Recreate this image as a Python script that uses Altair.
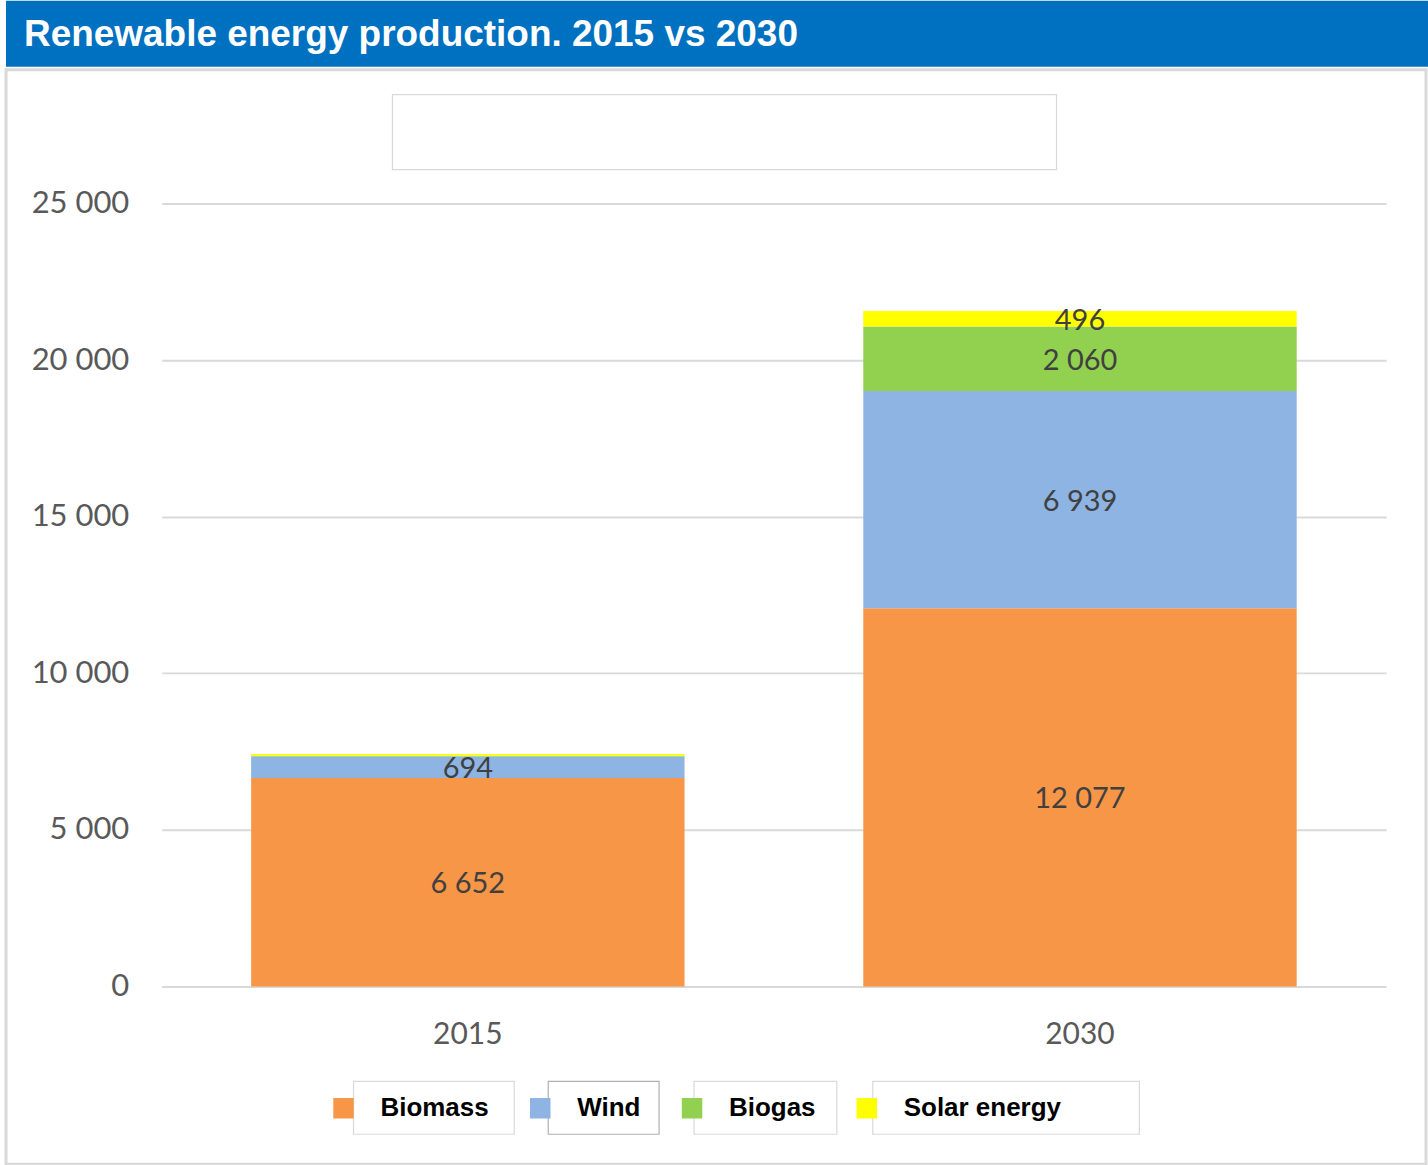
import altair as alt
import pandas as pd

# ---- data ----
years = ["2015", "2030"]
sources = ["Biomass", "Wind", "Biogas", "Solar energy"]
values_2015 = [6652, 694, 20, 60]
values_2030 = [12077, 6939, 2060, 496]
colors = ["#F79646", "#8EB4E3", "#92D050", "#FFFF00"]
y_ticks = [0, 5000, 10000, 15000, 20000, 25000]
title_text = "Renewable energy production. 2015 vs 2030"

rows = []
for yr, vals in zip(years, [values_2015, values_2030]):
    for i, (s, v) in enumerate(zip(sources, vals)):
        rows.append({"year": yr, "source": s, "value": v, "order": i})
df = pd.DataFrame(rows)

fmt = "replace(format(datum.value, ','), ',', ' ')"

x_scale = alt.Scale(range=[156, 1382], paddingInner=0.292, paddingOuter=0.146)
x_axis = alt.Axis(title=None, orient="bottom", offset=-178, domain=False, ticks=False,
                  labelPadding=33, labelFont="Lato", labelFontSize=30,
                  labelColor="#595959", labelAngle=0)
y_scale = alt.Scale(domain=[0, 25000], range=[918, 134])
y_axis = alt.Axis(title=None, values=y_ticks, offset=-131, labelPadding=8,
                  domain=False, ticks=False, grid=True, gridColor="#D9D9D9",
                  gridWidth=2, labelExpr=fmt, labelFont="Lato", labelFontSize=31,
                  labelColor="#595959")

bars = alt.Chart(df).mark_bar(strokeWidth=0).encode(
    x=alt.X("year:N", scale=x_scale, axis=x_axis, sort=years),
    y=alt.Y("value:Q", stack="zero", scale=y_scale, axis=y_axis),
    color=alt.Color(
        "source:N",
        scale=alt.Scale(domain=sources, range=colors),
        legend=alt.Legend(title=None, orient="none", legendX=325, legendY=1096,
                          direction="horizontal", symbolType="square",
                          symbolSize=420, symbolStrokeWidth=0, symbolOpacity=1,
                          labelFont="Liberation Sans", labelFontWeight="bold",
                          labelFontSize=26, labelColor="black", labelOffset=24,
                          columnPadding=38),
    ),
    order=alt.Order("order:Q"),
)

labels = (
    alt.Chart(df)
    .transform_stack(stack="value", as_=["v0", "v1"], groupby=["year"],
                     sort=[alt.SortField("order", "ascending")])
    .transform_calculate(mid="(datum.v0 + datum.v1) / 2", label=fmt)
    .transform_filter("datum.value >= 300")
    .mark_text(font="Lato", fontSize=29, color="#404040", baseline="middle", dy=2)
    .encode(
        x=alt.X("year:N", scale=x_scale, axis=x_axis, sort=years),
        y=alt.Y("mid:Q", scale=y_scale, axis=y_axis),
        text="label:N",
    )
)

one = alt.Data(values=[{"a": 1}])


def frame(x1, x2, y1, y2, stroke="#D9D9D9"):
    return alt.Chart(one).mark_rect(fill="white", stroke=stroke, strokeWidth=1.2).encode(
        x=alt.value(x1), x2=alt.value(x2), y=alt.value(y1), y2=alt.value(y2)
    )


title_box = frame(387, 1052, 25, 100)
legend_frames = [
    frame(348, 509, 1013, 1066),
    frame(543, 654, 1013, 1066, stroke="#B0B0B0"),
    frame(689, 832, 1013, 1066),
    frame(868, 1135, 1013, 1066),
]

main = alt.layer(title_box, *legend_frames, bars, labels).properties(
    width=1422, height=1096,
    view=alt.ViewBackground(fill="white", stroke="#D9D9D9", strokeWidth=3),
)

banner = alt.Chart(pd.DataFrame({"t": [title_text]})).mark_text(
    align="left", baseline="middle", font="Liberation Sans", fontWeight="bold",
    fontSize=37, color="white"
).encode(x=alt.value(18), y=alt.value(34), text="t:N").properties(
    width=1424, height=66,
    view=alt.ViewBackground(fill="#0070C0", stroke="#0070C0", strokeWidth=0),
)

chart = alt.vconcat(banner, main, spacing=1).properties(
    padding={"left": 4, "top": 0, "right": 0, "bottom": 0},
    background="white",
)

chart.save("out.html", embed_options={"renderer": "svg", "actions": False})
